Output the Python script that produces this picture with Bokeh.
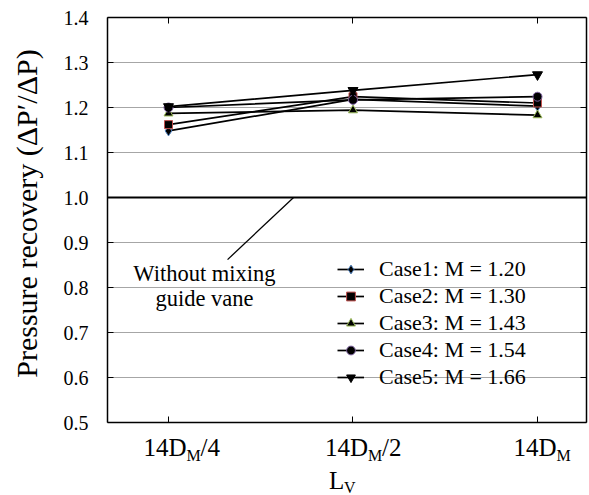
import math
from bokeh.plotting import figure
from bokeh.models import (Range1d, FixedTicker, LinearAxis, Label, Legend,
                          LegendItem, NumeralTickFormatter)
from bokeh.embed import file_html
from bokeh.resources import INLINE

# ---------------- data ----------------
x_pos = [0, 1, 2]
x_main = ["14D", "14D", "14D"]
x_sub = ["M", "M", "M"]
x_suffix = ["/4", "/2", ""]

case_names = ["Case1: M = 1.20", "Case2: M = 1.30", "Case3: M = 1.43",
              "Case4: M = 1.54", "Case5: M = 1.66"]
case1 = [1.148, 1.218, 1.203]
case2 = [1.162, 1.224, 1.210]
case3 = [1.187, 1.194, 1.183]
case4 = [1.200, 1.217, 1.224]
case5 = [1.202, 1.238, 1.273]
series = [case1, case2, case3, case4, case5]

y_ticks = [0.5, 0.6, 0.7, 0.8, 0.9, 1.0, 1.1, 1.2, 1.3, 1.4]
grid_ticks = [0.6, 0.7, 0.8, 0.9, 1.1, 1.2, 1.3]
baseline_value = 1.0
note_lines = ["Without mixing", "guide vane"]
y_title = "Pressure recovery (\u0394P\u2032/\u0394P)"

# ---------------- layout / styles ----------------
markers = ["diamond", "square", "triangle", "circle", "inverted_triangle"]
edge_colors = ["#4f81bd", "#c0504d", "#9bbb59", "#8064a2", "#000000"]
sizes = [10, 8, 9, 9, 10]
FONT = "Liberation Serif"
W, H = 589, 495
X_LO, X_HI = -0.33, 2.266       # plotted area in x
Y_LO, Y_HI = 0.5, 1.4           # plotted area in y

p = figure(width=W, height=H, output_backend="svg", toolbar_location=None,
           x_range=Range1d(-0.9106, 2.2819), y_range=Range1d(0.3378, 1.4378),
           min_border=0)
p.outline_line_color = None
p.background_fill_color = "white"
p.border_fill_color = "white"
p.xgrid.visible = False
p.ygrid.visible = False
for ax in list(p.xaxis) + list(p.yaxis):
    ax.visible = False

# gridlines (bounded to the plotted area)
n = len(grid_ticks)
p.segment(x0=[X_LO] * n, x1=[X_HI] * n, y0=grid_ticks, y1=grid_ticks,
          line_color="#a6a6a6", line_width=1)
p.segment(x0=[X_LO], x1=[X_HI], y0=[baseline_value], y1=[baseline_value],
          line_color="black", line_width=2)


def blank(ticks):
    return {t: "" for t in ticks}


# left axis (labels)
la = LinearAxis(ticker=FixedTicker(ticks=y_ticks), fixed_location=X_LO,
                bounds=(Y_LO, Y_HI), formatter=NumeralTickFormatter(format="0.0"),
                major_tick_in=6, major_tick_out=0, minor_tick_line_color=None,
                axis_line_color="black", axis_line_width=1.5,
                major_label_standoff=19)
la.major_label_text_font = FONT
la.major_label_text_font_size = "20px"
la.major_label_text_color = "black"
p.add_layout(la, "left")
# right border with ticks
ra = LinearAxis(ticker=FixedTicker(ticks=y_ticks), fixed_location=X_HI,
                bounds=(Y_LO, Y_HI), major_label_overrides=blank(y_ticks),
                major_tick_in=6, major_tick_out=0, minor_tick_line_color=None,
                axis_line_color="black", axis_line_width=1.5)
p.add_layout(ra, "right")
# bottom axis
ba = LinearAxis(ticker=FixedTicker(ticks=x_pos), fixed_location=Y_LO,
                bounds=(X_LO, X_HI), major_label_overrides=blank(x_pos),
                major_tick_in=6, major_tick_out=0, minor_tick_line_color=None,
                axis_line_color="black", axis_line_width=1.5)
p.add_layout(ba, "below")
# top border with ticks
ta = LinearAxis(ticker=FixedTicker(ticks=x_pos), fixed_location=Y_HI,
                bounds=(X_LO, X_HI), major_label_overrides=blank(x_pos),
                major_tick_in=6, major_tick_out=0, minor_tick_line_color=None,
                axis_line_color="black", axis_line_width=1.5)
p.add_layout(ta, "above")

# series
items = []
for name, ys, m, ec, s in zip(case_names, series, markers, edge_colors, sizes):
    r1 = p.line(x_pos, ys, line_color="black", line_width=1.7)
    r2 = p.scatter(x_pos, ys, marker=m, size=s, fill_color="black",
                   line_color=ec, line_width=1)
    items.append(LegendItem(label=name, renderers=[r1, r2]))

legend = Legend(items=items, location=(337, 105), border_line_color=None,
                background_fill_alpha=0, padding=0, margin=0, spacing=1,
                glyph_width=27, glyph_height=22, label_height=22,
                label_standoff=15, label_text_font=FONT,
                label_text_font_size="22px", label_text_color="black")
p.add_layout(legend)

# x tick labels with subscripts
main_dx = [-25, -28, -24]
for xv, mt, st, sf, dx in zip(x_pos, x_main, x_sub, x_suffix, main_dx):
    p.add_layout(Label(x=xv, y=Y_LO, x_offset=dx, y_offset=-24.5, text=mt,
                       text_font=FONT, text_font_size="25px", text_color="black",
                       text_align="left", text_baseline="middle"))
    p.add_layout(Label(x=xv, y=Y_LO, x_offset=dx + 43, y_offset=-33, text=st,
                       text_font=FONT, text_font_size="16px", text_color="black",
                       text_align="left", text_baseline="middle"))
    if sf:
        p.add_layout(Label(x=xv, y=Y_LO, x_offset=dx + 57, y_offset=-24.5, text=sf,
                           text_font=FONT, text_font_size="25px", text_color="black",
                           text_align="left", text_baseline="middle"))

# x axis title L_V
p.add_layout(Label(x=x_pos[1], y=Y_LO, x_offset=-24, y_offset=-58, text="L",
                   text_font=FONT, text_font_size="25px", text_color="black",
                   text_align="left", text_baseline="middle"))
p.add_layout(Label(x=x_pos[1], y=Y_LO, x_offset=-9, y_offset=-64.5, text="V",
                   text_font=FONT, text_font_size="16px", text_color="black",
                   text_align="left", text_baseline="middle"))

# y axis title
p.add_layout(Label(x=-0.77, y=0.9644, text=y_title, angle=math.pi / 2,
                   text_font=FONT, text_font_size="30px", text_color="black",
                   text_align="center", text_baseline="middle"))

# annotation
p.segment(x0=[0.32], y0=[0.862], x1=[0.678], y1=[baseline_value],
          line_color="black", line_width=1.3)
p.add_layout(Label(x=0.195, y=0.8311, text=note_lines[0], text_font=FONT,
                   text_font_size="22.5px", text_color="black", text_align="center",
                   text_baseline="middle"))
p.add_layout(Label(x=0.195, y=0.8311, y_offset=-25, text=note_lines[1], text_font=FONT,
                   text_font_size="22.5px", text_color="black", text_align="center",
                   text_baseline="middle"))

open("out.html", "w").write(file_html(p, INLINE))
